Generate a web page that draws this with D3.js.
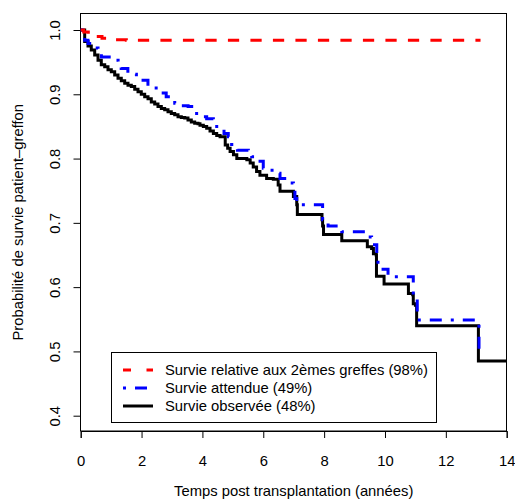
<!DOCTYPE html>
<html>
<head>
<meta charset="utf-8">
<script src="https://cdn.jsdelivr.net/npm/d3@7"></script>
<style>
  html, body { margin: 0; padding: 0; background: #fff; }
  svg { display: block; font-family: "Liberation Sans", Arial, Helvetica, sans-serif; }
</style>
</head>
<body>
<svg id="chart" width="515" height="502"></svg>
<script>
// ---- Data ----
const xTicks = [0, 2, 4, 6, 8, 10, 12, 14];
const yTicks = [0.4, 0.5, 0.6, 0.7, 0.8, 0.9, 1.0];

// Observed survival (Kaplan-Meier, step function)
const obsTime = [0, 0.131, 0.240, 0.348, 0.460, 0.569, 0.677, 0.789, 0.897, 1.006, 1.117, 1.226, 1.334, 1.446, 1.554, 1.663, 1.775, 1.883, 1.991, 2.103, 2.212, 2.320, 2.432, 2.540, 2.649, 2.760, 2.869, 2.977, 3.089, 3.198, 3.306, 3.418, 3.526, 3.635, 3.746, 3.855, 3.92, 4.03, 4.14, 4.25, 4.36, 4.47, 4.58, 4.75, 4.83, 4.91, 5.02, 5.13, 5.46, 5.57, 5.67, 5.78, 5.89, 6.11, 6.33, 6.49, 6.55, 6.99, 7.10, 7.12, 7.93, 7.95, 7.98, 8.58, 9.42, 9.56, 9.62, 9.71, 9.72, 9.97, 10.77, 10.91, 10.93, 11.00, 11.04, 13.07, 14];
const obsSurv = [1.0, 0.982, 0.975, 0.969, 0.961, 0.953, 0.946, 0.943, 0.938, 0.935, 0.930, 0.925, 0.921, 0.917, 0.914, 0.912, 0.908, 0.904, 0.900, 0.896, 0.893, 0.888, 0.885, 0.881, 0.878, 0.876, 0.873, 0.870, 0.868, 0.865, 0.864, 0.863, 0.860, 0.857, 0.855, 0.854, 0.852, 0.850, 0.847, 0.843, 0.839, 0.836, 0.834, 0.821, 0.816, 0.811, 0.806, 0.800, 0.798, 0.793, 0.787, 0.780, 0.774, 0.769, 0.768, 0.759, 0.749, 0.741, 0.728, 0.713, 0.705, 0.695, 0.682, 0.672, 0.663, 0.660, 0.652, 0.650, 0.617, 0.605, 0.590, 0.588, 0.574, 0.572, 0.540, 0.485, 0.485];

// Expected survival
const expTime = [0, 0.13, 0.24, 0.40, 0.57, 0.68, 1.01, 1.23, 1.33, 1.55, 1.83, 1.99, 2.21, 2.48, 2.81, 3.09, 3.20, 3.53, 3.75, 4.02, 4.14, 4.36, 4.47, 4.71, 4.85, 4.96, 5.15, 5.51, 5.62, 5.84, 6.00, 6.16, 6.44, 6.55, 6.77, 6.99, 7.04, 7.10, 7.95, 8.13, 8.58, 9.42, 9.56, 9.73, 9.77, 10.10, 10.93, 10.99, 11.06, 13.09];
const expSurv = [1.0, 0.984, 0.979, 0.972, 0.964, 0.958, 0.953, 0.943, 0.940, 0.931, 0.924, 0.922, 0.913, 0.902, 0.896, 0.886, 0.882, 0.881, 0.870, 0.865, 0.862, 0.853, 0.847, 0.839, 0.834, 0.822, 0.813, 0.810, 0.803, 0.796, 0.785, 0.782, 0.777, 0.769, 0.762, 0.755, 0.738, 0.728, 0.705, 0.695, 0.686, 0.678, 0.666, 0.642, 0.628, 0.616, 0.588, 0.583, 0.549, 0.490];

// Relative survival
const relTime = [0, 0.10, 0.25, 0.45, 0.70, 1.00, 1.50, 13.14];
const relSurv = [1.0, 0.997, 0.993, 0.990, 0.987, 0.985, 0.984, 0.984];

const legendLabels = [
  "Survie relative aux 2èmes greffes (98%)",
  "Survie attendue (49%)",
  "Survie observée (48%)"
];
const xTitle = "Temps post transplantation (années)";
const yTitle = "Probabilité de survie patient–greffon";

// ---- Layout ----
const svg = d3.select("#chart");
const FS = 14.8;
const x = d3.scaleLinear().domain([0, 14]).range([80.7, 506.7]);
const y = d3.scaleLinear().domain([0.4, 1.0]).range([415.7, 30]);
const boxTop = 13.5, boxBottom = 431;

// box
svg.append("rect")
  .attr("x", 80.5).attr("y", boxTop)
  .attr("width", 426).attr("height", boxBottom - boxTop)
  .attr("fill", "none").attr("stroke", "#000").attr("stroke-width", 1);

// x axis
const xAxis = svg.append("g").attr("transform", `translate(0,${boxBottom})`)
  .call(d3.axisBottom(x).tickValues(xTicks).tickSize(7).tickPadding(17).tickFormat(d3.format("d")));
xAxis.select(".domain").attr("stroke", "#000");
xAxis.selectAll("text").attr("font-size", FS).attr("fill", "#000").attr("font-family", null);
xAxis.selectAll("line").attr("stroke", "#000");

// y axis
const yAxis = svg.append("g").attr("transform", `translate(80.5,0)`)
  .call(d3.axisLeft(y).tickValues(yTicks).tickSize(7).tickFormat(d3.format(".1f")));
yAxis.select(".domain").attr("stroke", "none");
yAxis.selectAll("line").attr("stroke", "#000");
yAxis.selectAll(".tick text")
  .attr("font-size", FS).attr("fill", "#000").attr("font-family", null)
  .attr("x", null).attr("dy", null)
  .attr("text-anchor", "middle")
  .attr("transform", "translate(-20.5,0) rotate(-90)");

// axis titles
svg.append("text").attr("x", (80.7 + 506.7) / 2).attr("y", 496)
  .attr("text-anchor", "middle").attr("font-size", FS).text(xTitle);
svg.append("text")
  .attr("transform", `translate(23,${(boxTop + boxBottom) / 2}) rotate(-90)`)
  .attr("text-anchor", "middle").attr("font-size", FS).text(yTitle);

// curves
const step = d3.line().x(d => x(d[0])).y(d => y(d[1])).curve(d3.curveStepAfter);
const obs = obsTime.map((t, i) => [t, obsSurv[i]]);
const exp = expTime.map((t, i) => [t, expSurv[i]]);
const rel = relTime.map((t, i) => [t, relSurv[i]]);

svg.append("path").attr("d", step(obs)).attr("fill", "none")
  .attr("stroke", "#000").attr("stroke-width", 3);
svg.append("path").attr("d", step(exp)).attr("fill", "none")
  .attr("stroke", "#0000ff").attr("stroke-width", 3).attr("stroke-dasharray", "3,9,12,9");
svg.append("path").attr("d", step(rel)).attr("fill", "none")
  .attr("stroke", "#ff0000").attr("stroke-width", 3).attr("stroke-dasharray", "11.25,11.25");

// legend
const lg = svg.append("g");
lg.append("rect").attr("x", 111.5).attr("y", 352.5).attr("width", 325).attr("height", 70)
  .attr("fill", "#fff").attr("stroke", "#000").attr("stroke-width", 1);
const styles = [
  { color: "#ff0000", dash: "8,15.5" },
  { color: "#0000ff", dash: "3,9,12,9" },
  { color: "#000000", dash: null }
];
const rowY = [370, 388, 406];
legendLabels.forEach((lab, i) => {
  const l = lg.append("line").attr("x1", 123).attr("x2", 153)
    .attr("y1", rowY[i]).attr("y2", rowY[i])
    .attr("stroke", styles[i].color).attr("stroke-width", 3);
  if (styles[i].dash) l.attr("stroke-dasharray", styles[i].dash);
  lg.append("text").attr("x", 165).attr("y", rowY[i] + 5)
    .attr("font-size", FS).attr("fill", "#000").text(lab);
});
</script>
</body>
</html>
